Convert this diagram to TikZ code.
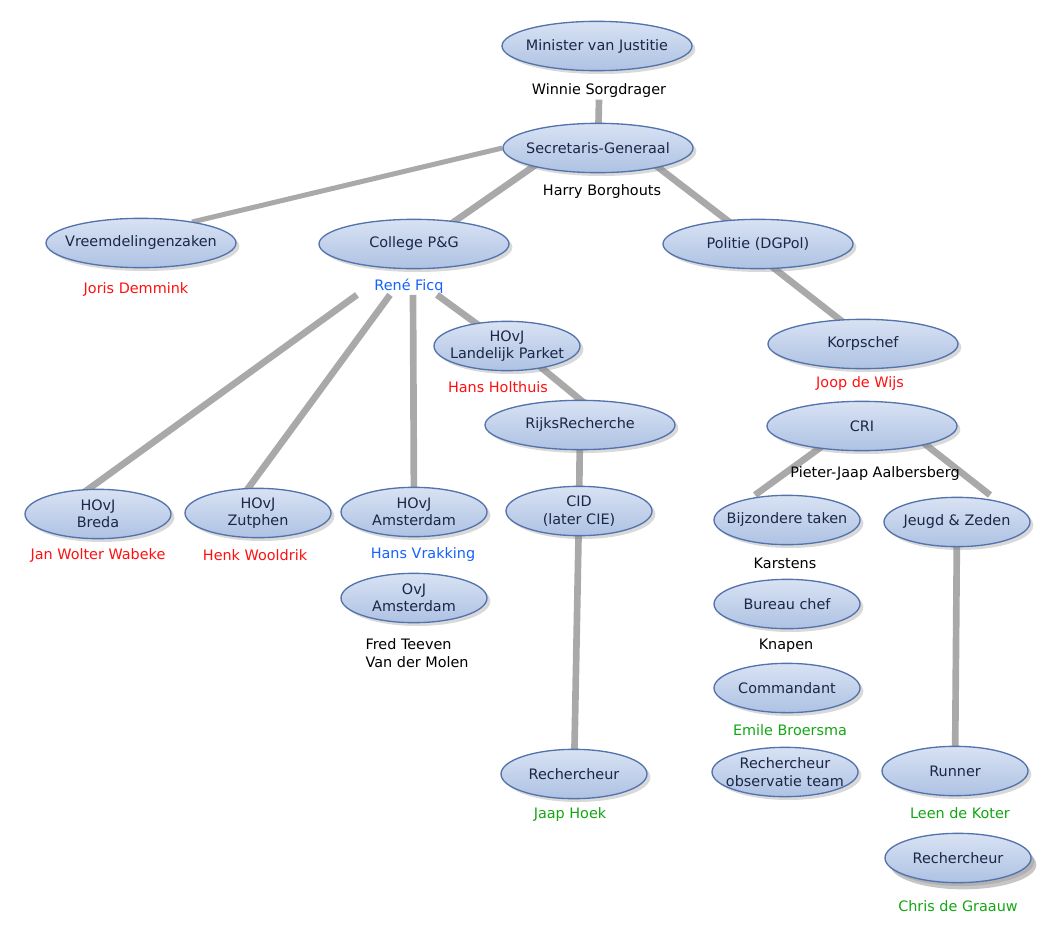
\documentclass[tikz,border=0pt]{standalone}
\usepackage{fontspec}
\setmainfont{DejaVu Sans}
\usetikzlibrary{shapes.geometric,shadows,backgrounds}
\definecolor{orgtext}{HTML}{1C2647}
\definecolor{orgline}{HTML}{5473AD}
\definecolor{orgtop}{HTML}{D8E2F3}
\definecolor{orgbot}{HTML}{AEC2E3}
\definecolor{linkgrey}{HTML}{A9A9A9}
\definecolor{wblue}{HTML}{1462FF}
\definecolor{wgreen}{HTML}{12A612}
\definecolor{wred}{HTML}{FF1010}
\begin{document}
\begin{tikzpicture}[x=0.75pt, y=-0.75pt, font=\fontsize{10.8pt}{13pt}\selectfont,
  org/.style={ellipse, draw=orgline, line width=1pt, top color=orgtop, bottom color=orgbot,
    text=orgtext, align=center, inner xsep=-10pt, inner ysep=-2pt, minimum height=37pt,
    drop shadow={opacity=0.3, shadow xshift=2.5pt, shadow yshift=-2.5pt}},
  orgwide/.style={org, minimum width=142.5pt},
  orgsmall/.style={org, minimum width=109.5pt},
  who/.style={align=left, inner sep=1pt},
  link/.style={draw=linkgrey, line width=5pt},
  thinlink/.style={draw=linkgrey, line width=3.75pt}]
\useasboundingbox (0,0) rectangle (1056,931);
% ministerie en top
\node (1)[orgwide] at (597,46)  {Minister van Justitie};
\node (2)[orgwide] at (598,148) {Secretaris-Generaal};
\node (3)[orgwide] at (141,243) {Vreemdelingenzaken};
\node (4)[orgwide] at (414,244) {College P\&G};
\node (5)[orgwide] at (758,244) {Politie (DGPol)};
\node (6)[orgwide] at (863,344) {Korpschef};
\node (7)[orgsmall] at (507,346) {HOvJ\\Landelijk Parket};
\node (8)[orgwide] at (580,425) {RijksRecherche};
\node (9)[orgwide] at (862,426) {CRI};
% parketten
\node (10)[orgsmall] at (98,514)  {HOvJ\\Breda};
\node (11)[orgsmall] at (258,513) {HOvJ\\Zutphen};
\node (12)[orgsmall] at (414,512) {HOvJ\\Amsterdam};
\node (13)[orgsmall] at (579,511) {CID\\(later CIE)};
\node (16)[orgsmall] at (414,598) {OvJ\\Amsterdam};
\node (20)[orgsmall] at (574,774) {Rechercheur};
% CRI afdelingen
\node (14)[orgsmall] at (787,520) {Bijzondere taken};
\node (15)[orgsmall] at (957,522) {Jeugd \& Zeden};
\node (17)[orgsmall] at (787,604) {Bureau chef};
\node (18)[orgsmall] at (787,688) {Commandant};
\node (19)[orgsmall] at (785,772) {Rechercheur\\observatie team};
\node (21)[orgsmall] at (955,771) {Runner};
\node (22)[orgsmall, drop shadow={opacity=0.45, shadow xshift=4pt, shadow yshift=-5pt}] at (958,858) {Rechercheur};
% namen
\node (p1)[who] at (599,91)  {Winnie Sorgdrager};
\node (p2)[who] at (602,192) {Harry Borghouts};
\node (p3)[who, text=wred] at (136,289) {Joris Demmink};
\node (p4)[who, text=wblue] at (409,286) {René Ficq};
\node (p6)[who, text=wred] at (860,384) {Joop de Wijs};
\node (p7)[who, text=wred] at (498,387) {Hans Holthuis};
\node (p9)[who] at (875,474) {Pieter-Jaap Aalbersberg};
\node (p10)[who, text=wred] at (98,555)  {Jan Wolter Wabeke};
\node (p11)[who, text=wred] at (255,555) {Henk Wooldrik};
\node (p12)[who, text=wblue] at (423,555) {Hans Vrakking};
\node (p14)[who] at (785,563) {Karstens};
\node (p16)[who, anchor=west] at (364,653) {Fred Teeven\\Van der Molen};
\node (p17)[who] at (786,646) {Knapen};
\node (p18)[who, text=wgreen] at (790,730) {Emile Broersma};
\node (p20)[who, text=wgreen] at (570,815) {Jaap Hoek};
\node (p21)[who, text=wgreen] at (960,813) {Leen de Koter};
\node (p22)[who, text=wgreen] at (958,906) {Chris de Graauw};
% lijnen
\begin{scope}[on background layer]
\path[link] (p1.south) -- (2.center);
\path[thinlink] (2.west) -- ([shift={(51,-21)}]3.center);
\path[link] ([shift={(-38,0)}]2.center) -- ([shift={(8,0)}]4.center);
\path[link] ([shift={(35,0)}]2.center) -- (5.center);
\path[link] ([shift={(-15,0)}]5.center) -- ([shift={(8,0)}]6.center);
\path[link] ([shift={(-52,0)}]p4.south) -- ([shift={(-44,0)}]10.center);
\path[link] ([shift={(-19,0)}]p4.south) -- ([shift={(-28,0)}]11.center);
\path[link] ([shift={(4,0)}]p4.south) -- (12.center);
\path[link] ([shift={(28,0)}]p4.south) -- (7.center);
\path[link] ([shift={(8,0)}]7.center) -- ([shift={(31,0)}]8.center);
\path[link] (8.center) -- (13.center);
\path[link] (13.center) -- (20.center);
\path[link] ([shift={(-12,0)}]9.center) -- ([shift={(-32,-25)}]14.center);
\path[link] ([shift={(40,0)}]9.center) -- ([shift={(33,-27)}]15.center);
\path[link] (15.center) -- (21.center);
\end{scope}
\end{tikzpicture}
\end{document}
